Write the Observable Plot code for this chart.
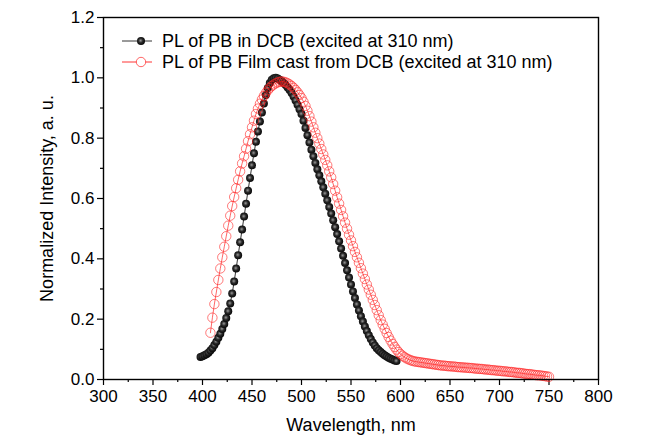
<!DOCTYPE html>
<html><head><meta charset="utf-8">
<script src="https://cdn.jsdelivr.net/npm/d3@7"></script>
<script src="https://cdn.jsdelivr.net/npm/@observablehq/plot@0.6"></script>
<style>body{margin:0;background:#fff;} #chart{width:666px;height:439px;}</style>
</head><body><div id="chart"></div>
<script>
// Solution PL (PB in DCB)
const solWavelength = [
  398,400,402,404,406,408,410,412,414,416,
  418,420,422,424,426,428,430,432,434,436,
  438,440,442,444,446,448,450,452,454,456,
  458,460,462,464,466,468,470,472,474,476,
  478,480,482,484,486,488,490,492,494,496,
  498,500,502,504,506,508,510,512,514,516,
  518,520,522,524,526,528,530,532,534,536,
  538,540,542,544,546,548,550,552,554,556,
  558,560,562,564,566,568,570,572,574,576,
  578,580,582,584,586,588,590,592,594,596];
const solIntensity = [
  .075,.077,.080,.084,.089,.096,.104,.114,.125,.138,
  .152,.167,.184,.204,.226,.252,.285,.325,.368,.412,
  .455,.497,.540,.583,.626,.668,.710,.750,.788,.822,
  .855,.885,.915,.943,.966,.983,.994,.999,1.000,.998,
  .994,.989,.983,.976,.968,.960,.950,.938,.925,.911,
  .896,.880,.858,.834,.810,.786,.762,.740,.718,.697,
  .677,.657,.637,.616,.594,.572,.550,.528,.505,.482,
  .458,.434,.410,.386,.362,.338,.315,.292,.270,.249,
  .229,.210,.192,.176,.161,.147,.134,.123,.113,.104,
  .097,.091,.085,.080,.076,.072,.069,.066,.063,.061];

// Film PL (PB film cast from DCB)
const filmWavelength = [
  408,410,412,414,416,418,420,422,424,426,
  428,430,432,434,436,438,440,442,444,446,
  448,450,452,454,456,458,460,462,464,466,
  468,470,472,474,476,478,480,482,484,486,
  488,490,492,494,496,498,500,502,504,506,
  508,510,512,514,516,518,520,522,524,526,
  528,530,532,534,536,538,540,542,544,546,
  548,550,552,554,556,558,560,562,564,566,
  568,570,572,574,576,578,580,582,584,586,
  588,590,592,594,596,598,600,602,604,606,
  608,610,612,614,616,618,620,622,624,626,
  628,630,632,634,636,638,640,642,644,646,
  648,650,652,654,656,658,660,662,664,666,
  668,670,672,674,676,678,680,682,684,686,
  688,690,692,694,696,698,700,702,704,706,
  708,710,712,714,716,718,720,722,724,726,
  728,730,732,734,736,738,740,742,744,746,
  748,750];
const filmIntensity = [
  .155,.205,.250,.290,.330,.368,.405,.440,.475,.510,
  .543,.575,.605,.634,.662,.690,.716,.740,.765,.790,
  .813,.836,.858,.880,.898,.914,.928,.940,.950,.959,
  .967,.973,.978,.982,.985,.987,.988,.987,.985,.982,
  .978,.973,.967,.960,.952,.943,.933,.921,.907,.891,
  .873,.855,.836,.818,.800,.782,.764,.746,.728,.710,
  .690,.670,.648,.626,.604,.583,.562,.541,.520,.500,
  .480,.461,.442,.423,.405,.387,.369,.351,.333,.315,
  .298,.281,.264,.247,.230,.213,.197,.182,.168,.154,
  .141,.129,.118,.108,.099,.091,.084,.079,.074,.070,
  .067,.064,.062,.060,.059,.058,.057,.056,.055,.054,
  .053,.052,.051,.050,.049,.048,.047,.046,.046,.045,
  .044,.044,.043,.043,.042,.041,.041,.040,.040,.039,
  .039,.038,.038,.037,.036,.036,.035,.035,.034,.033,
  .033,.032,.031,.031,.030,.029,.029,.028,.027,.027,
  .026,.025,.025,.024,.023,.022,.022,.021,.020,.019,
  .018,.018,.017,.016,.015,.014,.014,.013,.012,.011,
  .010,.009];

const seriesNames = ["PL of PB in DCB (excited at 310 nm)", "PL of PB Film cast from DCB (excited at 310 nm)"];
const xMajorTicks = [300,350,400,450,500,550,600,650,700,750,800];
const xMinorTicks = [325,375,425,475,525,575,625,675,725,775];
const yMajorTicks = [0,0.2,0.4,0.6,0.8,1.0,1.2];
const yMinorTicks = [0.1,0.3,0.5,0.7,0.9,1.1];
const xTitle = "Wavelength, nm";
const yTitle = "Normalized Intensity, a. u.";

const sol = solWavelength.map((w, i) => ({w, v: solIntensity[i]}));
const film = filmWavelength.map((w, i) => ({w, v: filmIntensity[i]}));

const font = "'Liberation Sans', Arial, Helvetica, sans-serif";
const mL = 103, mR = 68, mT = 17, mB = 60;

const svg = Plot.plot({
  width: 666, height: 439,
  marginLeft: mL, marginRight: mR, marginTop: mT, marginBottom: mB,
  style: {fontFamily: font, fontSize: "17px", color: "#000", background: "#fff", overflow: "visible"},
  x: {domain: [300, 800]},
  y: {domain: [0, 1.2]},
  marks: [
    Plot.axisX({ticks: xMinorTicks, tickSize: 3, tickFormat: () => "", label: null, stroke: "#000", strokeWidth: 1.2}),
    Plot.axisX({ticks: xMajorTicks, tickSize: 6, tickPadding: 4, tickFormat: d => String(d), label: null, fontSize: 17, stroke: "#000", strokeWidth: 1.2, fill: "#000"}),
    Plot.axisY({ticks: yMinorTicks, tickSize: 3, tickFormat: () => "", label: null, stroke: "#000", strokeWidth: 1.2}),
    Plot.axisY({ticks: yMajorTicks, tickSize: 6, tickPadding: 3, tickFormat: d3.format(".1f"), label: null, fontSize: 17, stroke: "#000", strokeWidth: 1.2, fill: "#000"}),
    Plot.text([xTitle], {frameAnchor: "bottom", dy: 46, lineAnchor: "middle", textAnchor: "middle", text: d => d, fontSize: 18, fill: "#000"}),
    Plot.text([yTitle], {frameAnchor: "left", dx: -56, rotate: -90, lineAnchor: "middle", textAnchor: "middle", text: d => d, fontSize: 18, fill: "#000"}),
    Plot.line(sol, {x: "w", y: "v", stroke: "#000", strokeWidth: 0.8}),
    Plot.dot(sol, {x: "w", y: "v", r: 4, fill: "url(#ball)", stroke: "none"}),
    Plot.line(film, {x: "w", y: "v", stroke: "#f00", strokeWidth: 0.6}),
    Plot.dot(film, {x: "w", y: "v", r: 4.7, fill: "none", stroke: "#f22", strokeWidth: 0.6}),
    Plot.frame({stroke: "#000", strokeWidth: 1.4})
  ]
});

// sphere-like shading for the black markers
const defs = d3.select(svg).insert("defs", ":first-child");
const g = defs.append("radialGradient").attr("id", "ball").attr("cx", "45%").attr("cy", "45%").attr("r", "60%");
g.append("stop").attr("offset", "0%").attr("stop-color", "#9a9a9a");
g.append("stop").attr("offset", "45%").attr("stop-color", "#2a2a2a");
g.append("stop").attr("offset", "100%").attr("stop-color", "#000");

// legend inside the plot frame (top-left)
const leg = d3.select(svg).append("g").attr("font-family", font).attr("font-size", 18).attr("text-anchor", "start");
const lx0 = mL + 19, lx1 = mL + 49, lm = mL + 38, tx = mL + 59;
const rows = [
  {y: mT + 24, color: "#000", filled: true, name: seriesNames[0]},
  {y: mT + 45, color: "#f00", filled: false, name: seriesNames[1]}
];
rows.forEach(r => {
  leg.append("line").attr("x1", lx0).attr("x2", lx1).attr("y1", r.y).attr("y2", r.y)
    .attr("stroke", r.color).attr("stroke-width", 0.8);
  leg.append("circle").attr("cx", lm).attr("cy", r.y).attr("r", r.filled ? 4 : 4.7)
    .attr("fill", r.filled ? "url(#ball)" : "#fff").attr("stroke", r.filled ? "none" : r.color).attr("stroke-width", 0.6);
  leg.append("text").attr("x", tx).attr("y", r.y).attr("dy", "0.35em").attr("fill", "#000").text(r.name);
});

document.getElementById("chart").appendChild(svg);
</script>
</body></html>
